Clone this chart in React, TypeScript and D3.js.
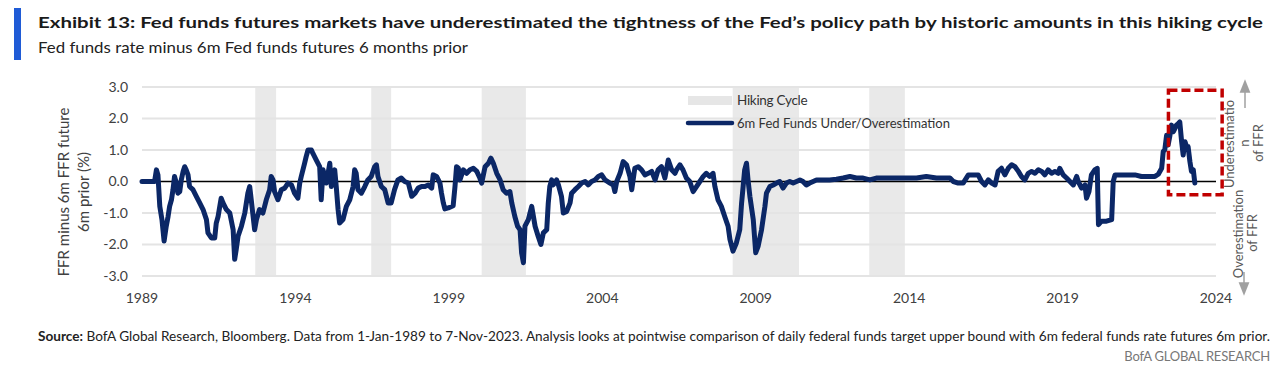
import React from "react";
import * as d3 from "d3";

// ---- Data (decimal years, % points) ----
const years: number[] = [
  1989.0, 1989.41, 1989.47, 1989.52, 1989.58, 1989.65, 1989.72, 1989.79, 1989.85, 1989.9, 1989.96,
  1990.01, 1990.06, 1990.12, 1990.17, 1990.23, 1990.28, 1990.34, 1990.39, 1990.44, 1990.5, 1990.55,
  1990.66, 1990.77, 1990.88, 1990.99, 1991.1, 1991.15, 1991.26, 1991.37, 1991.42, 1991.48, 1991.58,
  1991.64, 1991.75, 1991.86, 1991.97, 1992.02, 1992.07, 1992.13, 1992.24, 1992.35, 1992.45, 1992.51,
  1992.56, 1992.67, 1992.73, 1992.83, 1992.94, 1993.05, 1993.16, 1993.21, 1993.27, 1993.32, 1993.43,
  1993.54, 1993.65, 1993.76, 1993.87, 1993.97, 1994.08, 1994.14, 1994.19, 1994.3, 1994.35, 1994.41,
  1994.52, 1994.57, 1994.68, 1994.79, 1994.84, 1994.9, 1995.01, 1995.12, 1995.17, 1995.28, 1995.33,
  1995.39, 1995.44, 1995.55, 1995.66, 1995.77, 1995.88, 1995.93, 1995.98, 1996.04, 1996.15, 1996.26,
  1996.36, 1996.47, 1996.58, 1996.64, 1996.69, 1996.8, 1996.91, 1997.02, 1997.12, 1997.23, 1997.34,
  1997.45, 1997.56, 1997.68, 1997.79, 1997.9, 1998.0, 1998.11, 1998.22, 1998.33, 1998.44, 1998.49,
  1998.6, 1998.71, 1998.76, 1998.82, 1998.87, 1998.98, 1999.14, 1999.2, 1999.25, 1999.31, 1999.36,
  1999.47, 1999.58, 1999.69, 1999.8, 1999.91, 2000.01, 2000.07, 2000.18, 2000.29, 2000.37, 2000.45,
  2000.56, 2000.67, 2000.77, 2000.88, 2000.99, 2001.05, 2001.15, 2001.24, 2001.32, 2001.37, 2001.43,
  2001.48, 2001.59, 2001.7, 2001.81, 2001.91, 2002.0, 2002.08, 2002.19, 2002.24, 2002.29, 2002.35,
  2002.4, 2002.51, 2002.57, 2002.67, 2002.73, 2002.84, 2002.95, 2003.0, 2003.11, 2003.22, 2003.33,
  2003.44, 2003.54, 2003.65, 2003.76, 2003.87, 2003.98, 2004.09, 2004.25, 2004.36, 2004.41, 2004.47,
  2004.58, 2004.68, 2004.79, 2004.9, 2004.96, 2005.06, 2005.17, 2005.28, 2005.39, 2005.5, 2005.61,
  2005.72, 2005.82, 2005.93, 2006.04, 2006.15, 2006.26, 2006.37, 2006.42, 2006.53, 2006.63, 2006.74,
  2006.85, 2006.96, 2007.07, 2007.18, 2007.29, 2007.39, 2007.5, 2007.61, 2007.67, 2007.77, 2007.88,
  2007.99, 2008.1, 2008.16, 2008.26, 2008.37, 2008.48, 2008.54, 2008.59, 2008.64, 2008.7, 2008.75,
  2008.81, 2008.92, 2009.0, 2009.08, 2009.19, 2009.3, 2009.35, 2009.46, 2009.57, 2009.68, 2009.78,
  2009.89, 2010.0, 2010.11, 2010.22, 2010.33, 2010.44, 2010.54, 2010.65, 2010.76, 2010.87, 2010.98,
  2011.2, 2011.41, 2011.63, 2011.85, 2012.07, 2012.28, 2012.5, 2012.72, 2012.93, 2013.37, 2013.8,
  2014.24, 2014.56, 2014.89, 2015.06, 2015.33, 2015.44, 2015.6, 2015.76, 2015.93, 2016.09, 2016.25,
  2016.36, 2016.47, 2016.58, 2016.69, 2016.8, 2016.9, 2017.01, 2017.12, 2017.23, 2017.34, 2017.45,
  2017.56, 2017.66, 2017.77, 2017.88, 2017.99, 2018.1, 2018.21, 2018.32, 2018.42, 2018.53, 2018.64,
  2018.75, 2018.86, 2018.91, 2019.02, 2019.13, 2019.24, 2019.35, 2019.46, 2019.51, 2019.62, 2019.73,
  2019.78, 2019.86, 2019.94, 2020.05, 2020.13, 2020.17, 2020.27, 2020.43, 2020.6, 2020.65, 2020.71,
  2020.92, 2021.36, 2021.57, 2021.79, 2022.01, 2022.12, 2022.23, 2022.28, 2022.33, 2022.39, 2022.44,
  2022.5, 2022.55, 2022.61, 2022.66, 2022.71, 2022.77, 2022.82, 2022.88, 2022.93, 2022.99, 2023.04,
  2023.09, 2023.15, 2023.2, 2023.26, 2023.31,
];

const values: number[] = [
  0.0, 0.0, 0.37, 0.21, -0.79, -1.21, -1.89, -1.42, -1.11, -0.79, -0.58,
  -0.26, 0.16, -0.05, -0.37, -0.32, 0.05, 0.32, 0.47, 0.37, 0.21, -0.16,
  -0.26, -0.47, -0.68, -0.89, -1.21, -1.63, -1.79, -1.79, -1.32, -1.11, -0.53,
  -0.68, -0.89, -1.0, -1.53, -2.47, -2.16, -1.74, -1.42, -1.0, -0.37, -0.16,
  -0.58, -1.53, -1.21, -0.89, -1.0, -0.58, -0.26, 0.16, 0.05, -0.32, -0.58,
  -0.26, -0.21, -0.05, -0.11, -0.37, -0.53, -0.05, 0.16, 0.58, 0.79, 1.0,
  1.0, 0.89, 0.68, 0.47, -0.58, 0.37, -0.05, 0.58, -0.16, 0.37, -0.16,
  -0.89, -1.32, -1.21, -0.79, -0.58, -0.16, 0.37, 0.26, -0.26, -0.37, -0.16,
  0.05, 0.16, 0.47, 0.53, 0.16, -0.16, -0.26, -0.68, -0.68, -0.26, 0.05,
  0.11, 0.0, -0.05, -0.47, -0.37, -0.21, -0.16, -0.16, -0.11, -0.21, 0.21,
  0.16, -0.05, -0.37, -0.68, -0.87, -0.84, -0.77, -0.16, 0.47, 0.42, 0.05,
  0.37, 0.26, 0.37, 0.42, 0.32, 0.11, -0.05, 0.47, 0.58, 0.74, 0.58,
  0.26, 0.05, -0.26, -0.37, -0.32, -0.68, -1.11, -1.42, -1.53, -2.26, -2.58,
  -1.42, -1.21, -0.79, -1.42, -1.74, -2.0, -1.63, -1.53, -0.68, -0.16, 0.05,
  -0.11, 0.05, -0.11, -0.47, -1.0, -0.95, -0.68, -0.37, -0.26, -0.16, -0.05,
  0.0, -0.11, 0.0, 0.05, 0.16, 0.21, 0.05, -0.05, -0.11, -0.32, 0.0,
  0.26, 0.63, 0.53, 0.16, -0.26, 0.42, 0.47, 0.37, 0.21, 0.26, 0.32,
  0.05, 0.37, 0.47, 0.11, 0.68, 0.37, 0.26, 0.37, 0.53, 0.37, 0.11,
  0.0, -0.32, -0.16, 0.0, 0.16, 0.26, 0.16, 0.26, -0.16, -0.58, -0.79,
  -1.11, -1.42, -1.84, -2.21, -1.95, -1.53, -0.68, -0.16, 0.37, 0.58, 0.05,
  -0.47, -1.21, -2.26, -2.05, -1.53, -0.79, -0.37, -0.16, -0.11, -0.05, 0.0,
  -0.21, -0.05, 0.0, -0.05, 0.0, 0.05, 0.0, -0.11, -0.05, 0.0, 0.05,
  0.05, 0.05, 0.07, 0.11, 0.16, 0.11, 0.11, 0.05, 0.11, 0.11, 0.11,
  0.11, 0.16, 0.11, 0.11, 0.11, 0.0, -0.05, -0.05, 0.21, 0.21, 0.21,
  0.0, -0.11, 0.05, -0.05, -0.11, 0.32, 0.42, 0.21, 0.42, 0.53, 0.47,
  0.32, 0.16, 0.05, 0.26, 0.32, 0.26, 0.37, 0.32, 0.21, 0.37, 0.26,
  0.32, 0.26, 0.42, 0.21, 0.11, 0.0, -0.11, 0.16, 0.0, -0.21, -0.11,
  -0.53, -0.32, 0.21, 0.37, 0.42, -1.37, -1.26, -1.26, -1.21, 0.0, 0.21,
  0.21, 0.21, 0.16, 0.16, 0.16, 0.23, 0.42, 0.95, 1.0, 1.47, 1.16,
  1.47, 1.79, 1.58, 1.68, 1.79, 1.84, 1.89, 1.26, 0.84, 1.26, 1.11,
  1.11, 0.63, 0.32, 0.37, -0.05,
];

const bandStarts: number[] = [1992.69, 1996.47, 2000.07, 2008.25, 2012.7];
const bandEnds: number[] = [1993.37, 1997.12, 2001.51, 2010.41, 2013.86];

const yTicks: number[] = [3, 2, 1, 0, -1, -2, -3];
const xTicks: number[] = [1989, 1994, 1999, 2004, 2009, 2014, 2019, 2024];

// highlight box (data units)
const boxYears: number[] = [2022.45, 2024.2];
const boxValues: number[] = [2.9, -0.42];

const TITLE =
  "Exhibit 13: Fed funds futures markets have underestimated  the tightness of the Fed\u2019s policy path by historic amounts in this hiking cycle";
const SUBTITLE = "Fed funds rate minus 6m Fed funds futures 6 months prior";

export default function App() {
  const x = d3.scaleLinear().domain([1989, 2024]).range([142, 1216]);
  const y = d3.scaleLinear().domain([-3, 3]).range([276, 87]);

  const pts = years.map((yr, i) => [yr, values[i]] as [number, number]);
  const line = d3
    .line<[number, number]>()
    .x((d) => x(d[0]))
    .y((d) => y(d[1]));

  const font = "Lato, 'Open Sans', sans-serif";
  const axisColor = "#404040";
  const navy = "#0b2766";

  return (
    <svg
      width={1280}
      height={378}
      style={{ position: "absolute", left: 0, top: 0, background: "#fff" }}
      fontFamily={font}
    >
      {/* header */}
      <rect x={14} y={8} width={7} height={52} fill="#1f5bd6" />
      <text x={38} y={28} fontSize={16} fontWeight={700} fill="#1a1a1a" textLength={1225} lengthAdjust="spacingAndGlyphs">
        {TITLE}
      </text>
      <text x={38} y={53} fontSize={16} fill="#222" textLength={430} lengthAdjust="spacingAndGlyphs">
        {SUBTITLE}
      </text>

      {/* bands */}
      {bandStarts.map((s, i) => (
        <rect key={"b" + i} x={x(s)} y={y(3)} width={x(bandEnds[i]) - x(s)} height={y(-3) - y(3)} fill="#e9e9e9" />
      ))}

      {/* gridlines */}
      {yTicks.map((t) =>
        t === 0 ? null : (
          <line key={"g" + t} x1={x(1989)} x2={x(2024)} y1={y(t)} y2={y(t)} stroke="#e4e4e4" strokeWidth={2} />
        )
      )}

      {/* y tick labels */}
      {yTicks.map((t) => (
        <text key={"yt" + t} x={128} y={y(t)} dy="0.35em" textAnchor="end" fontSize={14} fill={axisColor}>
          {t.toFixed(1)}
        </text>
      ))}

      {/* x tick labels */}
      {xTicks.map((t) => (
        <text key={"xt" + t} x={x(t)} y={303} textAnchor="middle" fontSize={14} fill={axisColor}>
          {t}
        </text>
      ))}

      {/* y axis title */}
      <g transform={`translate(63,192) rotate(-90)`}>
        <text x={0} y={0} textAnchor="middle" dominantBaseline="central" fontSize={15} fill={axisColor}>
          FFR minus 6m FFR future
        </text>
        <text x={0} y={20} textAnchor="middle" dominantBaseline="central" fontSize={15} fill={axisColor}>
          6m prior  (%)
        </text>
      </g>

      {/* zero line */}
      <line x1={x(1989)} x2={x(2024)} y1={y(0)} y2={y(0)} stroke="#000" strokeWidth={1.6} />

      {/* data line */}
      <path d={line(pts) || ""} fill="none" stroke={navy} strokeWidth={5} strokeLinejoin="round" strokeLinecap="round" />

      {/* highlight box */}
      <rect
        x={x(boxYears[0])}
        y={y(boxValues[0])}
        width={x(boxYears[1]) - x(boxYears[0])}
        height={y(boxValues[1]) - y(boxValues[0])}
        fill="none"
        stroke="#c00000"
        strokeWidth={3.5}
        strokeDasharray="9 4"
      />

      {/* legend */}
      <rect x={688} y={96} width={44} height={9} fill="#e6e6e6" />
      <text x={737} y={100.5} dy="0.35em" fontSize={13.5} fill="#333" letterSpacing={-0.3}>
        Hiking Cycle
      </text>
      <line x1={688} x2={732} y1={123} y2={123} stroke={navy} strokeWidth={4.5} strokeLinecap="round" />
      <text x={737} y={123} dy="0.35em" fontSize={13.5} fill="#333" textLength={213} lengthAdjust="spacingAndGlyphs">
        6m Fed Funds Under/Overestimation
      </text>

      {/* right annotations */}
      <defs>
        <marker id="arr" viewBox="0 0 10 10" refX={5} refY={5} markerWidth={9} markerHeight={9} orient="auto-start-reverse">
          <path d="M0,1 L10,5 L0,9 z" fill="#a0a0a0" />
        </marker>
      </defs>
      <line x1={1245} x2={1245} y1={108} y2={86} stroke="#a0a0a0" strokeWidth={1.5} markerEnd="url(#arr)" />
      <line x1={1244} x2={1244} y1={272} y2={289} stroke="#a0a0a0" strokeWidth={1.5} markerEnd="url(#arr)" />
      <g fontSize={13} fill="#595959">
        <text transform="translate(1229,144) rotate(-90)" textAnchor="middle" dominantBaseline="central">
          Underestimatio
        </text>
        <text transform="translate(1244,143) rotate(-90)" textAnchor="middle" dominantBaseline="central">
          n
        </text>
        <text transform="translate(1258,143) rotate(-90)" textAnchor="middle" dominantBaseline="central">
          of FFR
        </text>
        <text transform="translate(1238,234) rotate(-90)" textAnchor="middle" dominantBaseline="central">
          Overestimation
        </text>
        <text transform="translate(1252,233) rotate(-90)" textAnchor="middle" dominantBaseline="central">
          of FFR
        </text>
      </g>

      {/* source */}
      <text x={38} y={341} fontSize={13} fill="#222" textLength={1232} lengthAdjust="spacingAndGlyphs">
        <tspan fontWeight={700}>Source:</tspan>
        <tspan>
          {" "}BofA Global Research, Bloomberg. Data from 1-Jan-1989 to 7-Nov-2023. Analysis looks at pointwise comparison of daily federal funds target upper bound with 6m federal funds rate futures 6m prior.
        </tspan>
      </text>
      <text x={1270} y={361} fontSize={13} fill="#777" textAnchor="end" letterSpacing={-0.2}>
        BofA GLOBAL RESEARCH
      </text>
    </svg>
  );
}
